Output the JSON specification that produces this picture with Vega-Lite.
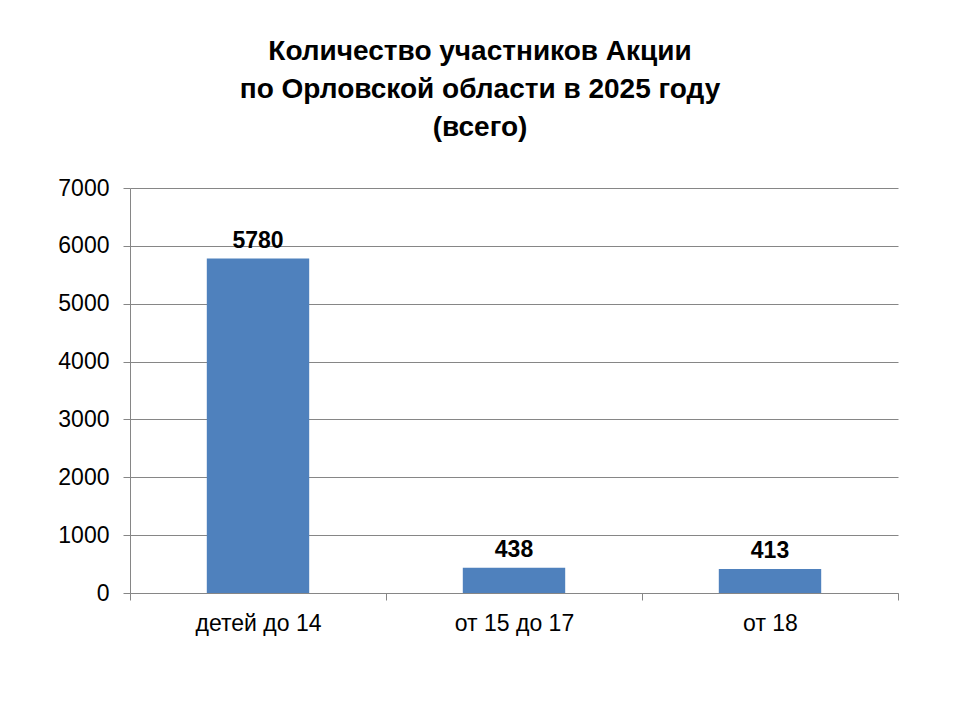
{
  "$schema": "https://vega.github.io/schema/vega-lite/v6.json",
  "width": 768,
  "height": 405,
  "autosize": {"type": "none"},
  "padding": {"left": 130, "top": 188, "right": 62, "bottom": 127},
  "background": "white",
  "title": {
    "text": ["Количество участников Акции", "по Орловской области в 2025 году", "(всего)"],
    "font": "Liberation Sans",
    "fontSize": 28,
    "fontWeight": "bold",
    "color": "black",
    "lineHeight": 38,
    "anchor": "middle",
    "dx": -34,
    "offset": 35
  },
  "data": {
    "values": [
      {"group": "детей до 14", "count": 5780},
      {"group": "от 15 до 17", "count": 438},
      {"group": "от 18", "count": 413}
    ]
  },
  "config": {
    "view": {"stroke": null},
    "axis": {"labelFont": "Liberation Sans", "labelColor": "black", "labelFontSize": 23}
  },
  "encoding": {
    "x": {
      "field": "group",
      "type": "nominal",
      "sort": null,
      "scale": {"paddingInner": 0, "paddingOuter": 0},
      "axis": {
        "title": null,
        "labelAngle": 0,
        "tickBand": "extent",
        "tickSize": 7,
        "tickColor": "#868686",
        "domainColor": "#868686",
        "labelPadding": 12
      }
    },
    "y": {
      "field": "count",
      "type": "quantitative",
      "scale": {"domain": [0, 7000]},
      "axis": {
        "title": null,
        "format": "d",
        "values": [0, 1000, 2000, 3000, 4000, 5000, 6000, 7000],
        "tickSize": 7,
        "tickColor": "#868686",
        "domainColor": "#868686",
        "gridColor": "#868686",
        "labelPadding": 14
      }
    }
  },
  "layer": [
    {"mark": {"type": "bar", "color": "#4F81BD", "width": {"band": 0.4}}},
    {
      "mark": {"type": "text", "font": "Liberation Sans", "fontSize": 23, "fontWeight": "bold", "color": "black", "baseline": "bottom", "dy": -6},
      "encoding": {"text": {"field": "count", "type": "quantitative", "format": "d"}}
    }
  ]
}
